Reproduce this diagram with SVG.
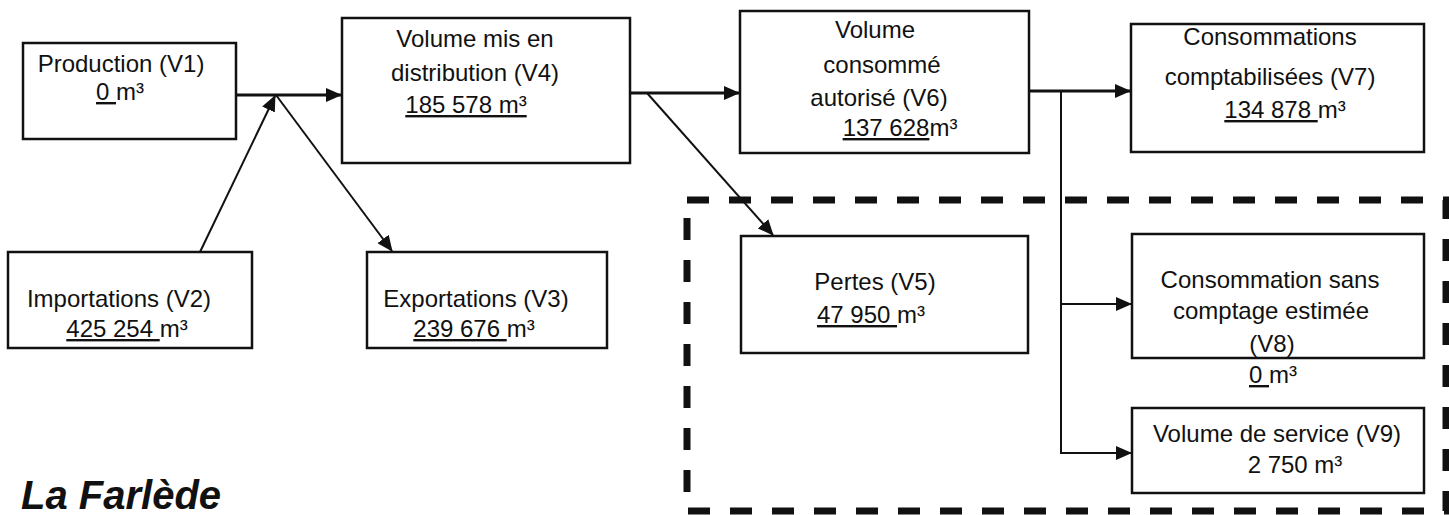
<svg xmlns="http://www.w3.org/2000/svg" width="1449" height="515" viewBox="0 0 1449 515">
<style>
.box{fill:#fff;stroke:#111;stroke-width:2.5}
.t{font-family:"Liberation Sans",Arial,sans-serif;font-size:24px;fill:#111;text-anchor:middle}
.u{text-decoration:underline}
.c{fill:none;stroke:#111;stroke-width:3}
.d{fill:none;stroke:#111;stroke-width:2}
.title{font-family:"Liberation Sans",Arial,sans-serif;font-size:40px;font-weight:bold;font-style:italic;fill:#111}
.dash{fill:none;stroke:#111;stroke-width:7;stroke-dasharray:22 20}
</style>
<defs>
<marker id="ah" markerUnits="userSpaceOnUse" markerWidth="16" markerHeight="14" refX="15" refY="7" orient="auto">
<path d="M0,0 L16,7 L0,14 Z" fill="#111"/>
</marker>
</defs>
<rect width="1449" height="515" fill="#fff"/>

<g id="group-pertes">
<path class="dash" d="M687,200 H1446 V511 H687 Z"/>
</g>

<g id="connectors">
<line class="c" x1="236" y1="95" x2="341" y2="95" marker-end="url(#ah)"/>
<line class="d" x1="200" y1="252" x2="275" y2="96" marker-end="url(#ah)"/>
<line class="d" x1="276" y1="95" x2="392" y2="251" marker-end="url(#ah)"/>
<line class="c" x1="630" y1="93" x2="739" y2="93" marker-end="url(#ah)"/>
<line class="d" x1="647" y1="93" x2="773" y2="235" marker-end="url(#ah)"/>
<line class="c" x1="1029" y1="91" x2="1130" y2="91" marker-end="url(#ah)"/>
<polyline class="d" points="1061,91 1061,453 1131,453" marker-end="url(#ah)"/>
<line class="d" x1="1061" y1="304" x2="1131" y2="304" marker-end="url(#ah)"/>
</g>

<g id="n-v1">
<rect class="box" x="23" y="43" width="213" height="96"/>
<text class="t" x="121" y="72">Production (V1)</text>
<text class="t" x="120" y="100"><tspan class="u">0 </tspan>m³</text>
</g>

<g id="n-v4">
<rect class="box" x="342" y="18" width="288" height="145"/>
<text class="t" x="475" y="47">Volume mis en</text>
<text class="t" x="475" y="81">distribution (V4)</text>
<text class="t u" x="466" y="113">185 578 m³</text>
</g>

<g id="n-v2">
<rect class="box" x="8" y="252" width="244" height="96"/>
<text class="t" x="119" y="307">Importations (V2)</text>
<text class="t" x="127" y="337"><tspan class="u">425 254 </tspan>m³</text>
</g>

<g id="n-v3">
<rect class="box" x="367" y="252" width="240" height="96"/>
<text class="t" x="476" y="307">Exportations (V3)</text>
<text class="t" x="474" y="337"><tspan class="u">239 676 </tspan>m³</text>
</g>

<g id="n-v6">
<rect class="box" x="740" y="11" width="289" height="142"/>
<text class="t" x="875" y="38">Volume</text>
<text class="t" x="882" y="73">consommé</text>
<text class="t" x="879" y="106">autorisé (V6)</text>
<text class="t" x="900" y="136"><tspan class="u">137 628</tspan>m³</text>
</g>

<g id="n-v7">
<rect class="box" x="1131" y="24" width="293" height="128"/>
<text class="t" x="1270" y="45">Consommations</text>
<text class="t" x="1270" y="85">comptabilisées (V7)</text>
<text class="t" x="1285" y="118"><tspan class="u">134 878 </tspan>m³</text>
</g>

<g id="n-v5">
<rect class="box" x="741" y="236" width="287" height="117"/>
<text class="t" x="875" y="290">Pertes (V5)</text>
<text class="t" x="871" y="323"><tspan class="u">47 950 </tspan>m³</text>
</g>

<g id="n-v8">
<rect class="box" x="1132" y="234" width="292" height="124"/>
<text class="t" x="1270" y="288">Consommation sans</text>
<text class="t" x="1271" y="319">comptage estimée</text>
<text class="t" x="1272" y="352">(V8)</text>
<text class="t" x="1273" y="383"><tspan class="u">0 </tspan>m³</text>
</g>

<g id="n-v9">
<rect class="box" x="1132" y="408" width="292" height="85"/>
<text class="t" x="1277" y="442">Volume de service (V9)</text>
<text class="t" x="1295" y="473">2 750 m³</text>
</g>

<text class="title" x="21" y="509">La Farlède</text>
</svg>
